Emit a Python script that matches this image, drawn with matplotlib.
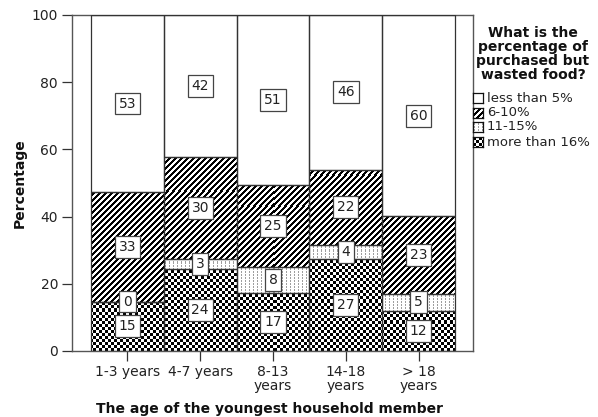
import numpy as np
import matplotlib
matplotlib.use('Agg')
import matplotlib.pyplot as plt

# ---------------- data ----------------
categories = ['1-3 years', '4-7 years', '8-13\nyears', '14-18\nyears', '> 18\nyears']
series_names = ['less than 5%', '6-10%', '11-15%', 'more than 16%']
more16 = [14.7, 24.4, 17.4, 27.4, 12.0]
p11_15 = [0.0, 3.0, 7.6, 4.2, 5.0]
p6_10 = [32.6, 30.4, 24.5, 22.4, 23.1]
less5 = [52.7, 42.2, 50.5, 46.0, 59.9]
yticks = [0, 20, 40, 60, 80, 100]
legend_title = 'What is the\npercentage of\npurchased but\nwasted food?'
xlabel = 'The age of the youngest household member'
ylabel = 'Percentage'

plt.rcParams['font.family'] = ['DejaVu Sans']

W, H = 598, 417
fig = plt.figure(figsize=(W / 100, H / 100), dpi=100)
ax_l, ax_r, ax_t, ax_b = 72, 473, 15, 351
ax = fig.add_axes([ax_l / W, (H - ax_b) / H, (ax_r - ax_l) / W, (ax_b - ax_t) / H])

x = np.arange(len(categories))
xlim = (-0.5 - 19 / 72.8, len(categories) - 0.5 + 18 / 72.8)
ax.set_xlim(*xlim)
ax.set_ylim(0, 100)

PW, PH = ax_r - ax_l, ax_b - ax_t


def pattern(kind, h, w):
    i, j = np.indices((h, w))
    img = np.ones((h, w, 3))
    if kind == 'hatch':
        m = ((i + j) // 3) % 2 == 0
        img[m] = 0.0
    elif kind == 'dots':
        m = (j % 4 == 1) & (i % 3 != 0)
        img[m] = 0.62
    elif kind == 'check':
        m = ((i // 3) + (j // 3)) % 2 == 0
        img[m] = 0.0
    return img


kinds = ['none', 'hatch', 'dots', 'check']  # matches series_names order
stack_bottom_up = [(more16, 'check'), (p11_15, 'dots'), (p6_10, 'hatch'), (less5, 'none')]

bottom = np.zeros(len(categories))
edge = '#333333'
for vals, kind in stack_bottom_up:
    vals = np.array(vals)
    bars = ax.bar(x, vals, width=1.0, bottom=bottom, color='white', edgecolor='none', zorder=1)
    if kind != 'none':
        img = pattern(kind, PH, PW)
        for b in bars:
            im = ax.imshow(img, extent=[xlim[0], xlim[1], 0, 100], aspect='auto',
                           interpolation='nearest', origin='upper', zorder=2)
            im.set_clip_path(b)
    ax.bar(x, vals, width=1.0, bottom=bottom, fill=False, edgecolor=edge, linewidth=0.9, zorder=3)
    for xi, v, b0 in zip(x, vals, bottom):
        ax.text(xi, b0 + v / 2, f'{int(v + 0.5)}', ha='center', va='center', fontsize=10,
                color='#222222', zorder=5,
                bbox=dict(boxstyle='square,pad=0.28', fc='white', ec='#444444', lw=0.9))
    bottom = bottom + vals

ax.set_xlim(*xlim)
ax.set_ylim(0, 100)
ax.set_yticks(yticks)
ax.set_xticks(x)
ax.set_xticklabels(categories, fontsize=10, color='#222222', linespacing=1.0)
ax.tick_params(axis='both', direction='out', length=7, width=0.9, color='#333333',
               labelsize=10, labelcolor='#222222')
ax.tick_params(axis='x', pad=3)
ax.tick_params(axis='y', pad=3)
for s in ax.spines.values():
    s.set_color('#555555')
    s.set_linewidth(1.0)

fig.text((ax_l + ax_r) / 2 / W - 0.005, 1 - 409 / H, xlabel, ha='center', va='center',
         fontsize=10, fontweight='bold', color='#111111')
fig.text(20 / W, 1 - 183 / H, ylabel, ha='center', va='center', rotation=90,
         fontsize=10, fontweight='bold', color='#111111')

# legend (manual)
fig.text(533 / W, 1 - 54 / H, legend_title, ha='center', va='center', fontsize=10,
         fontweight='bold', color='#111111', linespacing=1.0)
ly = [98, 113, 127, 142]
for name, yy in zip(series_names, ly):
    kind = kinds[series_names.index(name)]
    lax = fig.add_axes([473 / W, (H - yy - 5) / H, 10 / W, 10 / H])
    lax.imshow(pattern(kind, 10, 10), interpolation='nearest', aspect='auto')
    lax.set_xticks([])
    lax.set_yticks([])
    for s in lax.spines.values():
        s.set_color('#111111')
        s.set_linewidth(0.9)
    fig.text(487 / W, 1 - yy / H, name, ha='left', va='center', fontsize=9.5, color='#222222')

fig.savefig('out.png', dpi=100)
